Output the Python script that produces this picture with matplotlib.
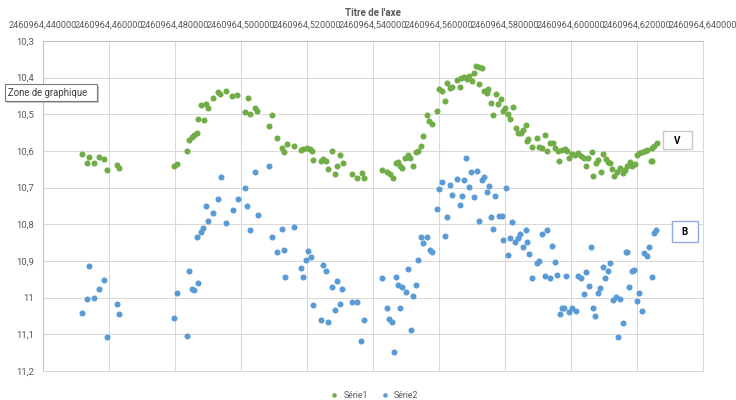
import matplotlib
matplotlib.use("Agg")
import matplotlib.pyplot as plt
from matplotlib.patches import Rectangle

plt.rcParams['font.family'] = ['Roboto', 'DejaVu Sans']

# Julian date origin; observation times are stored as the fractional part
JD0 = 2460964

# Série1 (V band)
v_frac = [0.4518, 0.4540, 0.4532, 0.4555, 0.4571, 0.4586, 0.4594, 0.4623, 0.4629,
          0.4798, 0.4805, 0.4835, 0.4842, 0.4851, 0.4858, 0.4866, 0.4871, 0.4887, 0.4879,
          0.4893, 0.4901, 0.4916, 0.4931, 0.4937, 0.4954, 0.4974, 0.4989, 0.5012, 0.5027,
          0.5020, 0.5042, 0.5048, 0.5093, 0.5085, 0.5108, 0.5123, 0.5130,
          0.5138, 0.5161, 0.5181, 0.5189, 0.5199, 0.5209, 0.5214, 0.5219, 0.5242, 0.5249,
          0.5257, 0.5265, 0.5277, 0.5285, 0.5292, 0.5300, 0.5308, 0.5337, 0.5352, 0.5366,
          0.5374, 0.5426, 0.5443, 0.5452, 0.5462,
          0.5469, 0.5475, 0.5482, 0.5489, 0.5497, 0.5505, 0.5511, 0.5522, 0.5529, 0.5537,
          0.5545, 0.5552, 0.5564, 0.5571, 0.5578, 0.5595, 0.5600, 0.5608, 0.5618, 0.5625,
          0.5633, 0.5640, 0.5655, 0.5664, 0.5667, 0.5676, 0.5684, 0.5691, 0.5699, 0.5707,
          0.5712, 0.5722, 0.5730, 0.5720, 0.5736, 0.5745, 0.5749, 0.5772, 0.5759, 0.5763,
          0.5778, 0.5788, 0.5795, 0.5800, 0.5808, 0.5823, 0.5815,
          0.5832, 0.5840, 0.5848, 0.5854, 0.5863, 0.5871, 0.5867, 0.5883, 0.5898, 0.5904,
          0.5911, 0.5921, 0.5927, 0.5936, 0.5945, 0.5952, 0.5960, 0.5965, 0.5974, 0.5982,
          0.5989, 0.5994, 0.6002, 0.6012, 0.6022, 0.6030, 0.6039, 0.6045, 0.6052, 0.6063,
          0.6068, 0.6075, 0.6083, 0.6090, 0.6096, 0.6105, 0.6113, 0.6119, 0.6125, 0.6130,
          0.6140, 0.6148, 0.6157, 0.6165, 0.6171, 0.6179, 0.6186, 0.6194, 0.6199, 0.6207,
          0.6216, 0.6224, 0.6231, 0.6242, 0.6246, 0.6245, 0.6252, 0.6262]
v_mag = [10.608, 10.616, 10.634, 10.634, 10.616, 10.623, 10.653, 10.637, 10.647,
         10.640, 10.635, 10.600, 10.571, 10.562, 10.557, 10.551, 10.512, 10.515, 10.474,
         10.472, 10.483, 10.455, 10.439, 10.445, 10.436, 10.450, 10.446, 10.494, 10.498,
         10.455, 10.483, 10.491, 10.502, 10.533, 10.565, 10.592, 10.604,
         10.581, 10.585, 10.597, 10.595, 10.592, 10.595, 10.599, 10.624, 10.628, 10.622,
         10.626, 10.649, 10.599, 10.662, 10.642, 10.610, 10.634, 10.664, 10.674, 10.660,
         10.673, 10.653, 10.658, 10.663, 10.673,
         10.633, 10.631, 10.640, 10.646, 10.619, 10.610, 10.618, 10.640, 10.603, 10.601,
         10.586, 10.558, 10.501, 10.517, 10.526, 10.492, 10.432, 10.436, 10.463, 10.414,
         10.429, 10.425, 10.406, 10.425, 10.401, 10.399, 10.403, 10.395, 10.410, 10.387,
         10.368, 10.372, 10.373, 10.417, 10.436, 10.441, 10.432, 10.444, 10.469, 10.501,
         10.473, 10.459, 10.492, 10.484, 10.498, 10.480, 10.513,
         10.537, 10.551, 10.551, 10.544, 10.528, 10.567, 10.574, 10.589, 10.565, 10.589,
         10.592, 10.556, 10.601, 10.578, 10.577, 10.592, 10.599, 10.626, 10.597, 10.595,
         10.599, 10.619, 10.608, 10.612, 10.606, 10.613, 10.619, 10.642, 10.618, 10.603,
         10.668, 10.633, 10.624, 10.658, 10.608, 10.622, 10.629, 10.633, 10.649, 10.667,
         10.656, 10.647, 10.660, 10.651, 10.640, 10.630, 10.642, 10.636, 10.610, 10.606,
         10.603, 10.599, 10.597, 10.626, 10.626, 10.592, 10.586, 10.578]

# Série2 (B band)
b_frac = [0.4540, 0.4586, 0.4571, 0.4532, 0.4555, 0.4518, 0.4623, 0.4629, 0.4594,
          0.4798, 0.4805, 0.4835, 0.4842, 0.4851, 0.4858, 0.4871, 0.4866, 0.4878, 0.4886,
          0.4901, 0.4894, 0.4916, 0.4931, 0.4939, 0.4954, 0.4975, 0.4990, 0.5012, 0.5019,
          0.5028, 0.5042, 0.5051, 0.5085, 0.5093, 0.5108, 0.5123, 0.5130, 0.5133,
          0.5161, 0.5204, 0.5196, 0.5212, 0.5181, 0.5189, 0.5249, 0.5257, 0.5219, 0.5242,
          0.5265, 0.5277, 0.5292, 0.5307, 0.5300, 0.5285, 0.5337, 0.5352, 0.5374, 0.5365,
          0.5426, 0.5469, 0.5477, 0.5442, 0.5448, 0.5457, 0.5464, 0.5482,
          0.5487, 0.5499, 0.5507, 0.5514, 0.5522, 0.5529, 0.5537, 0.5545, 0.5552, 0.5565,
          0.5573, 0.5580, 0.5595, 0.5601, 0.5610, 0.5624, 0.5618, 0.5633, 0.5640, 0.5655,
          0.5664, 0.5669, 0.5676, 0.5682, 0.5691, 0.5698, 0.5714, 0.5706, 0.5721, 0.5729,
          0.5736, 0.5745, 0.5752, 0.5758, 0.5764, 0.5770, 0.5782, 0.5790, 0.5802, 0.5794,
          0.5810, 0.5816, 0.5822,
          0.5830, 0.5839, 0.5845, 0.5855, 0.5863, 0.5868, 0.5874, 0.5883, 0.5896, 0.5904,
          0.5912, 0.5927, 0.5920, 0.5936, 0.5942, 0.5952, 0.5958, 0.5967, 0.5972, 0.5980,
          0.5986, 0.5994, 0.6002, 0.6015, 0.6022, 0.6030, 0.6039, 0.6046, 0.6054, 0.6062,
          0.6067, 0.6074, 0.6081, 0.6089, 0.6096, 0.6112, 0.6119, 0.6103, 0.6126,
          0.6136, 0.6148, 0.6142, 0.6157, 0.6167, 0.6171, 0.6177, 0.6186, 0.6192, 0.6201,
          0.6207, 0.6215, 0.6222, 0.6229, 0.6237, 0.6245, 0.6252, 0.6258]
b_mag = [10.914, 10.952, 10.977, 11.004, 11.001, 11.042, 11.017, 11.045, 11.107,
         11.056, 10.986, 11.104, 10.928, 10.977, 10.979, 10.960, 10.835, 10.820, 10.809,
         10.792, 10.749, 10.769, 10.731, 10.671, 10.796, 10.761, 10.731, 10.701, 10.749,
         10.815, 10.657, 10.775, 10.641, 10.834, 10.875, 10.814, 10.870, 10.944,
         10.807, 10.872, 10.897, 10.890, 10.919, 10.944, 10.910, 10.927, 11.019, 11.062,
         11.067, 10.972, 10.954, 10.977, 11.016, 11.034, 11.013, 11.013, 11.060, 11.118,
         10.946, 10.944, 10.965, 11.029, 11.057, 11.067, 11.147, 11.028,
         10.972, 10.984, 10.921, 11.087, 10.996, 10.966, 10.896, 10.834, 10.852, 10.834,
         10.870, 10.875, 10.758, 10.703, 10.685, 10.781, 10.833, 10.692, 10.720, 10.676,
         10.747, 10.724, 10.679, 10.619, 10.699, 10.657, 10.655, 10.726, 10.790, 10.678,
         10.671, 10.711, 10.696, 10.779, 10.813, 10.722, 10.776, 10.776, 10.700, 10.842,
         10.883, 10.837, 10.793,
         10.849, 10.838, 10.827, 10.863, 10.815, 10.847, 10.880, 10.945, 10.906, 10.900,
         10.826, 10.816, 10.940, 10.945, 10.858, 10.902, 10.937, 11.045, 11.027, 11.029,
         10.940, 11.039, 11.029, 11.037, 10.940, 10.947, 10.990, 10.929, 10.967, 10.862,
         11.027, 11.049, 10.988, 10.973, 10.917, 10.927, 10.906, 10.945, 11.007,
         10.999, 11.004, 11.108, 11.070, 10.876, 10.876, 10.970, 10.927, 10.925, 11.010,
         10.988, 11.036, 10.879, 10.886, 10.861, 10.944, 10.824, 10.815]

series_names = ["Série1", "Série2"]
axis_title = "Titre de l'axe"
x_tick_frac = [0.44, 0.46, 0.48, 0.50, 0.52, 0.54, 0.56, 0.58, 0.60, 0.62, 0.64]
x_tick_labels = ["2460964,440000", "2460964,460000", "2460964,480000", "2460964,500000",
                 "2460964,520000", "2460964,540000", "2460964,560000", "2460964,580000",
                 "2460964,600000", "2460964,620000", "2460964,640000"]
y_ticks = [10.3, 10.4, 10.5, 10.6, 10.7, 10.8, 10.9, 11.0, 11.1, 11.2]
y_tick_labels = ["10,3", "10,4", "10,5", "10,6", "10,7", "10,8", "10,9", "11", "11,1", "11,2"]

GREEN = "#70ad47"
BLUE = "#5b9bd5"
TEXT = "#595959"
GRID = "#d9d9d9"

W, H = 736, 400


def fx(px):
    return px / W


def fy(py):
    return 1 - py / H


fig = plt.figure(figsize=(W / 100, H / 100), dpi=100)
ax = fig.add_axes([fx(43), fy(371), 660 / W, 330 / H])

v_jd = [JD0 + t for t in v_frac]
b_jd = [JD0 + t for t in b_frac]

ax.scatter(v_jd, v_mag, s=19, color=GREEN, linewidths=0, zorder=3, label=series_names[0])
ax.scatter(b_jd, b_mag, s=19, color=BLUE, linewidths=0, zorder=3, label=series_names[1])

ax.set_xlim(JD0 + x_tick_frac[0], JD0 + x_tick_frac[-1])
ax.set_ylim(y_ticks[-1], y_ticks[0])
ax.set_xticks([JD0 + t for t in x_tick_frac])
ax.set_xticklabels(x_tick_labels)
ax.set_yticks(y_ticks)
ax.set_yticklabels(y_tick_labels)
ax.xaxis.tick_top()
ax.tick_params(axis='x', length=0, pad=8.4, labelsize=6.6, labelcolor=TEXT)
ax.tick_params(axis='y', length=0, pad=6.3, labelsize=6.8, labelcolor=TEXT)

ax.grid(True, color=GRID, linewidth=0.75)
ax.set_axisbelow(True)
for side in ("top", "left"):
    ax.spines[side].set_color("#bfbfbf")
    ax.spines[side].set_linewidth(0.75)
for side in ("right", "bottom"):
    ax.spines[side].set_color(GRID)
    ax.spines[side].set_linewidth(0.75)

fig.text(fx(373), fy(13.5), axis_title, ha='center', va='center',
         fontsize=7, fontweight='bold', color=TEXT)

leg = fig.legend(loc='center', bbox_to_anchor=(fx(372), fy(395)), ncol=2,
                 frameon=False, fontsize=6.3, handletextpad=0.05,
                 columnspacing=0.9, scatterpoints=1, markerscale=0.75,
                 labelcolor=TEXT)

# hover tooltip over the plot area
fig.add_artist(Rectangle((fx(7), fy(103)), 92 / W, 17 / H, transform=fig.transFigure,
                         facecolor="#9a9a9a", edgecolor="none", alpha=0.55, zorder=5))
fig.add_artist(Rectangle((fx(5), fy(101)), 92 / W, 17 / H, transform=fig.transFigure,
                         facecolor="white", edgecolor="#7a7a7a", linewidth=0.8, zorder=6))
fig.text(fx(8.5), fy(92.5), "Zone de graphique", ha='left', va='center',
         fontsize=6.9, color="#404040", zorder=7)

# series tags
fig.add_artist(Rectangle((fx(662.7), fy(149.3)), 29.3 / W, 18.6 / H, transform=fig.transFigure,
                         facecolor="white", edgecolor="#c8c8c8", linewidth=1.0, zorder=5))
fig.text(fx(677.3), fy(141), "V", ha='center', va='center', fontsize=7,
         fontweight='bold', color="black", zorder=6)
fig.add_artist(Rectangle((fx(671.7), fy(241.7)), 26.3 / W, 21 / H, transform=fig.transFigure,
                         facecolor="white", edgecolor="#8faadc", linewidth=1.0, zorder=5))
fig.text(fx(684.8), fy(232), "B", ha='center', va='center', fontsize=7,
         fontweight='bold', color="black", zorder=6)

fig.savefig("out.png", dpi=100)
